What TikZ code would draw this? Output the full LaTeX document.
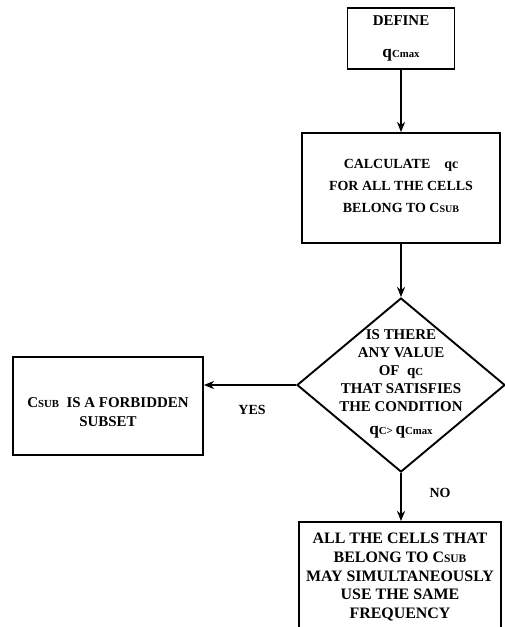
\documentclass[tikz,border=0pt]{standalone}
\usepackage{fontspec}
\setmainfont{Liberation Serif}
\usetikzlibrary{arrows.meta,shapes.geometric}
\makeatletter
% smaller capitals / subscripts set on the baseline, relative to the current size
\newcommand\sm[1]{{\fontsize{\strip@pt\dimexpr0.72\dimexpr\f@size pt\relax\relax}{0pt}\selectfont #1}}
% a slightly enlarged q for the threshold symbols
\newcommand\bq{{\fontsize{\strip@pt\dimexpr1.15\dimexpr\f@size pt\relax\relax}{0pt}\selectfont q}}
\makeatother
\newcommand\Csub{C\sm{SUB}}
\newcommand\qCmax{\bq\sm{Cmax}}
\begin{document}
\begin{tikzpicture}[x=1bp,y=-1bp,
  box/.style={draw,line width=1.9bp,rectangle,inner sep=0pt},
  txt/.style={font=\bfseries,align=center,inner sep=0pt},
  flow/.style={line width=1.6bp,-{Stealth[length=10bp,width=8bp,inset=3bp]}},
  lbl/.style={font=\bfseries\fontsize{14}{16}\selectfont,inner sep=0pt}]
\useasboundingbox (0,0) rectangle (505,627);
\clip (0,0) rectangle (505,627);

% process boxes
\node[box,minimum width=107bp,minimum height=61bp] (def) at (401,38.5) {};
\node[txt,font=\bfseries\fontsize{15}{33}\selectfont] (deft) at (def) {DEFINE\\\qCmax};

\node[box,minimum width=198bp,minimum height=110bp] (calc) at (401,188) {};
\node[txt,font=\bfseries\fontsize{14}{22.5}\selectfont] (calct) at (401,186)
  {CALCULATE\quad qc\\FOR ALL THE CELLS\\BELONG TO \Csub};

% decision
\node[draw,line width=1.9bp,diamond,minimum width=208bp,minimum height=174bp,inner sep=0pt] (dec) at (401,385) {};
\node[txt,font=\bfseries\fontsize{15}{18}\selectfont] (dect) at (401,384)
  {IS THERE\\ANY VALUE\\OF\ \ q\sm{C}\\THAT SATISFIES\\THE CONDITION\\[5bp]\bq\sm{C> }\qCmax};

% outcomes
\node[box,minimum width=190bp,minimum height=98bp] (forb) at (108,406) {};
\node[txt,font=\bfseries\fontsize{15}{19}\selectfont] (forbt) at (108,412)
  {\Csub\ \ IS A FORBIDDEN\\SUBSET};

\node[box,minimum width=202bp,minimum height=138bp] (same) at (400,591) {};
\node[txt,font=\bfseries\fontsize{16}{18.8}\selectfont,anchor=north] (samet) at (400,533)
  {ALL THE CELLS THAT\\BELONG TO \Csub\\MAY SIMULTANEOUSLY\\USE THE SAME\\FREQUENCY};

% connectors
\draw[flow] (def.south) -- (def.south |- calc.north);
\draw[flow] (calc.south) -- (calc.south |- dec.north);
\draw[flow] (dec.west) -- (forb.east |- dec.west);
\draw[flow] (dec.south) -- (dec.south |- same.north);

% branch labels
\node[lbl] (yes) at (252,410) {YES};
\node[lbl] (no) at (440,493) {NO};
\end{tikzpicture}
\end{document}
